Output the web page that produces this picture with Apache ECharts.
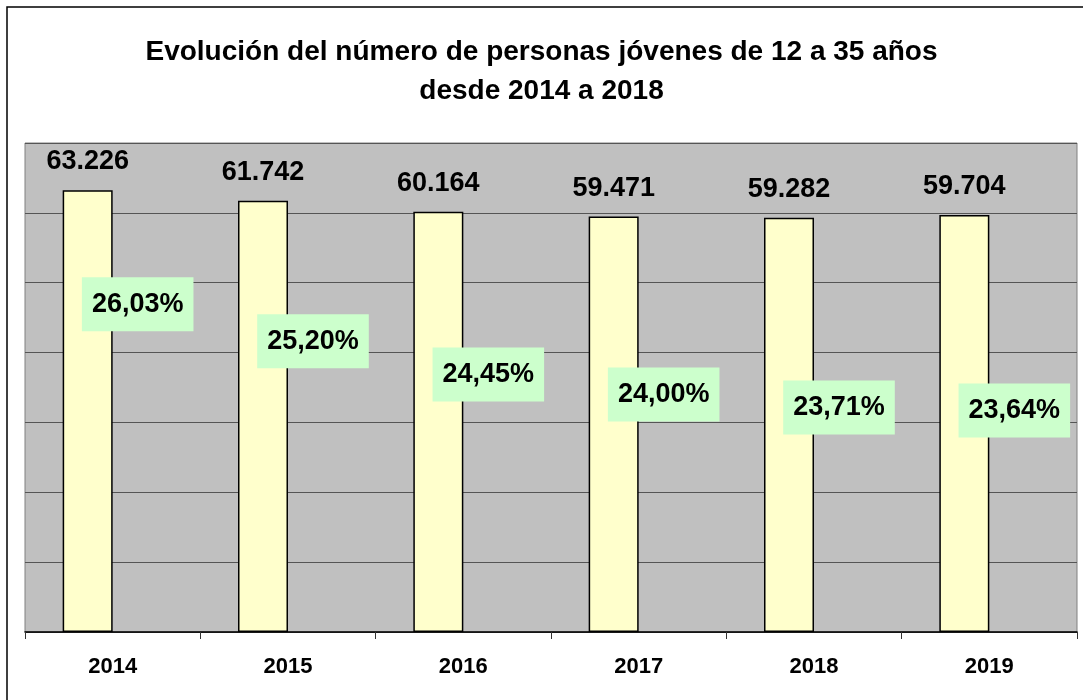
<!DOCTYPE html>
<html>
<head>
<meta charset="utf-8">
<script src="https://cdn.jsdelivr.net/npm/echarts@6/dist/echarts.min.js"></script>
<style>
  html, body { margin: 0; padding: 0; background: #fff; }
  #chart { width: 1083px; height: 700px; }
</style>
</head>
<body>
<div id="chart"></div>
<script>
// datos
const years = ["2014", "2015", "2016", "2017", "2018", "2019"];
const jovenes = [63226, 61742, 60164, 59471, 59282, 59704];
const porcentajes = [26.03, 25.20, 24.45, 24.00, 23.71, 23.64];
const titleLines = ["Evolución del número de personas jóvenes de 12 a 35 años", "desde 2014 a 2018"];

const FONT = "Liberation Sans, Arial, sans-serif";

function miles(v) {
  return String(v).replace(/\B(?=(\d{3})+(?!\d))/g, ".");
}

const chart = echarts.init(document.getElementById("chart"), null, { renderer: "canvas" });

chart.setOption({
  backgroundColor: "#fff",
  animation: false,
  title: {
    text: titleLines.join("\n"),
    left: "center",
    top: 28,
    textStyle: { fontFamily: FONT, fontSize: 28, fontWeight: "bold", color: "#000", lineHeight: 39 }
  },
  graphic: [{
    type: "rect",
    shape: { x: 7, y: 7, width: 1100, height: 720 },
    style: { fill: "none", stroke: "#000", lineWidth: 1.5 },
    silent: true
  }],
  grid: {
    left: 25, right: 6, top: 143, bottom: 68,
    show: true, backgroundColor: "#c0c0c0", borderColor: "#808080", borderWidth: 1
  },
  xAxis: {
    type: "category",
    data: years,
    boundaryGap: true,
    axisLine: { lineStyle: { color: "#000", width: 1.5 } },
    axisTick: { show: true, length: 7, lineStyle: { color: "#333" } },
    axisLabel: { fontFamily: FONT, fontSize: 22, fontWeight: "bold", color: "#000", margin: 24 }
  },
  yAxis: [{
    type: "value",
    min: 0, max: 70000, interval: 10000,
    axisLine: { show: false },
    axisTick: { show: false },
    axisLabel: { show: false },
    splitLine: { lineStyle: { color: "#555", width: 1 } }
  }, {
    type: "value",
    min: 18.05, max: 29.05,
    show: false,
    splitLine: { show: false }
  }],
  series: [{
    name: "Jóvenes",
    type: "bar",
    data: jovenes,
    barWidth: 50,
    barGap: "0%",
    itemStyle: { color: "#ffffcc", borderColor: "#000", borderWidth: 1.5 },
    label: {
      show: true, position: "top", distance: 15,
      fontFamily: FONT, fontSize: 27, fontWeight: "bold", color: "#000",
      formatter: p => miles(p.value)
    }
  }, {
    name: "Porcentaje",
    type: "bar",
    yAxisIndex: 1,
    data: porcentajes,
    barWidth: 50,
    itemStyle: { color: "rgba(0,0,0,0)" },
    label: {
      show: true, position: "insideTop", distance: 0,
      fontFamily: FONT, fontSize: 27, fontWeight: "bold", color: "#000",
      backgroundColor: "#ccffcc",
      padding: [12, 10, 11, 10],
      lineHeight: 31,
      formatter: p => p.value.toFixed(2).replace(".", ",") + "%"
    }
  }]
});
</script>
</body>
</html>
